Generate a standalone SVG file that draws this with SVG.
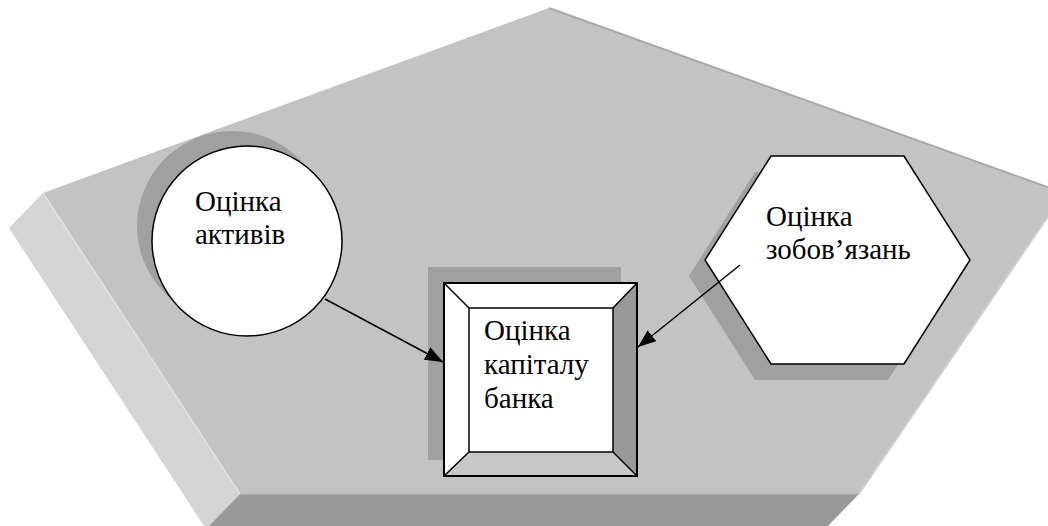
<svg xmlns="http://www.w3.org/2000/svg" width="1048" height="526" viewBox="0 0 1048 526">
  <style>
    .lbl { font-family: "Liberation Serif", "Times New Roman", serif; font-size: 29px; fill: #000; }
    .shadow { fill: #a0a0a0; }
    .node { fill: #fff; stroke: #000; stroke-width: 1.5; }
    .conn { stroke: #000; stroke-width: 1.5; fill: none; marker-end: url(#arr); }
  </style>
  <defs>
    <marker id="arr" markerUnits="userSpaceOnUse" markerWidth="20" markerHeight="16" refX="18" refY="7" orient="auto">
      <path d="M0,0 L18,7 L0,14 Z" fill="#000"/>
    </marker>
  </defs>
  <rect width="1048" height="526" fill="#fff"/>
  <g id="pentagon">
    <polygon points="43,193 9,228 206,529 240,494" fill="#d4d4d4"/>
    <polygon points="240,494 206,529 825,529 859,494" fill="#999999"/>
    <polygon points="549,8 1064,193 859,494 240,494 43,193" fill="#c3c3c3"/>
    <line x1="43" y1="193" x2="240" y2="494" stroke="#e2e2e2" stroke-width="1.5"/>
    <line x1="549" y1="8" x2="1064" y2="193" stroke="#a8a8a8" stroke-width="2"/>
    <line x1="1064" y1="193" x2="859" y2="494" stroke="#d0d0d0" stroke-width="2"/>
    <line x1="240" y1="494" x2="859" y2="494" stroke="#b4b4b4" stroke-width="1.5"/>
  </g>
  <g id="node-assets">
    <circle class="shadow" cx="232" cy="226" r="95"/>
    <circle class="node" cx="247" cy="241" r="95"/>
    <text class="lbl" x="195" y="211">Оцінка</text>
    <text class="lbl" x="195" y="244">активів</text>
  </g>
  <g id="node-liabilities">
    <polygon class="shadow" points="755,172 888,172 954,276 888,380 755,380 689,276"/>
    <polygon class="node" points="771,156 904,156 970,260 904,364 771,364 705,260"/>
    <text class="lbl" x="766" y="226">Оцінка</text>
    <text class="lbl" x="766" y="259">зобов’язань</text>
  </g>
  <g id="node-capital">
    <rect class="shadow" x="428" y="267" width="193" height="193"/>
    <polygon points="444,283 637,283 613,308 469,308" fill="#fff"/>
    <polygon points="444,283 469,308 469,452 444,476" fill="#fff"/>
    <polygon points="637,283 637,476 613,452 613,308" fill="#999999"/>
    <polygon points="444,476 637,476 613,452 469,452" fill="#c8c8c8"/>
    <rect x="469" y="308" width="144" height="144" fill="#fff" stroke="#000" stroke-width="1.5"/>
    <g stroke="#000" stroke-width="1.5">
      <line x1="444" y1="283" x2="469" y2="308"/>
      <line x1="637" y1="283" x2="613" y2="308"/>
      <line x1="444" y1="476" x2="469" y2="452"/>
      <line x1="637" y1="476" x2="613" y2="452"/>
    </g>
    <rect x="444" y="283" width="193" height="193" fill="none" stroke="#000" stroke-width="2"/>
    <text class="lbl" x="484" y="340">Оцінка</text>
    <text class="lbl" x="484" y="374">капіталу</text>
    <text class="lbl" x="484" y="408">банка</text>
  </g>
  <g id="connectors">
    <line class="conn" x1="325" y1="299" x2="443" y2="362"/>
    <line class="conn" x1="740" y1="265" x2="638" y2="347"/>
  </g>
</svg>
